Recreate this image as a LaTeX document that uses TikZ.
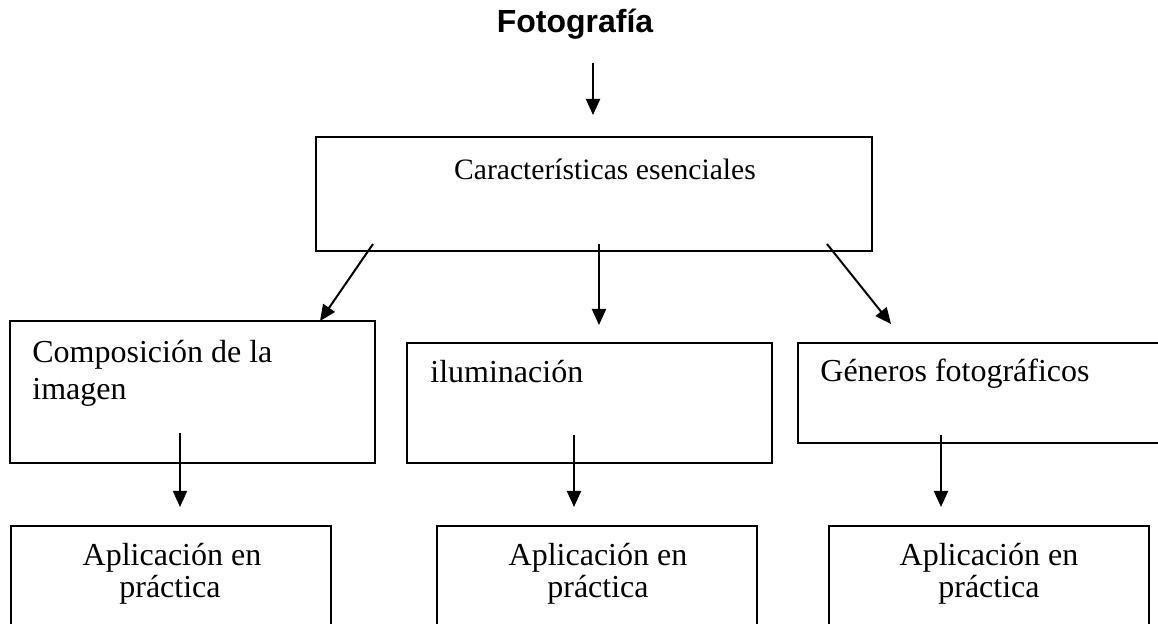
\documentclass[tikz,border=0pt]{standalone}
\usepackage{fontspec}
\setmainfont{Liberation Serif}
\newfontfamily\titlefont{Liberation Sans}
\usetikzlibrary{arrows.meta}
\tikzset{
  box/.style={draw, line width=1.2pt, rectangle, inner sep=0pt, outer sep=0pt, anchor=north west},
  txt/.style={inner sep=0pt, font=\fontsize{16}{18.5}\selectfont},
  arr/.style={line width=1pt, -{Triangle[length=8pt,width=7pt]}}
}
\begin{document}
\begin{tikzpicture}[x=0.5pt,y=-0.5pt]
\useasboundingbox (0,0) rectangle (1158,624);
\clip (0,0) rectangle (1158,624);
% title
\node[inner sep=0pt, anchor=base, font=\titlefont\bfseries\fontsize{16}{19}\selectfont] (title) at (575,33) {Fotografía};
% boxes
\node[box, minimum width=278pt, minimum height=57pt] (top) at (316,137) {};
\node[box, minimum width=182.5pt, minimum height=71pt] (b1) at (10,321) {};
\node[box, minimum width=182.5pt, minimum height=60pt] (b2) at (407,343) {};
\node[box, minimum width=184pt, minimum height=50pt] (b3) at (798,343) {};
\node[box, minimum width=160pt, minimum height=60pt] (a1) at (11,526) {};
\node[box, minimum width=160pt, minimum height=60pt] (a2) at (437,526) {};
\node[box, minimum width=160pt, minimum height=60pt] (a3) at (829,526) {};
% texts
\node[txt, anchor=base, font=\fontsize{14.8}{18}\selectfont] (ttop) at (605,180) {Características esenciales};
\node[txt, anchor=base west] (t1a) at (32,363) {Composición de la};
\node[txt, anchor=base west] (t1b) at (32,400) {imagen};
\node[txt, anchor=base west] (t2) at (430,383) {iluminación};
\node[txt, anchor=base west] (t3) at (820,382) {Géneros fotográficos};
\node[txt, anchor=base] (p1a) at (172,566) {Aplicación en};
\node[txt, anchor=base] (p1b) at (170,598) {práctica};
\node[txt, anchor=base] (p2a) at (598,566) {Aplicación en};
\node[txt, anchor=base] (p2b) at (598,598) {práctica};
\node[txt, anchor=base] (p3a) at (989,566) {Aplicación en};
\node[txt, anchor=base] (p3b) at (989,598) {práctica};
% connectors
\draw[arr] ([xshift=-0.5pt,yshift=37pt]top.north) -- ([xshift=-0.5pt,yshift=11pt]top.north);
\draw[arr] ([xshift=28.5pt,yshift=3.5pt]top.south west) -- ([xshift=-27.5pt]b1.north east);
\draw[arr] ([xshift=141.5pt,yshift=3.5pt]top.south west) -- ([xshift=4.75pt,yshift=9pt]b2.north);
\draw[arr] ([xshift=-22.5pt,yshift=3.5pt]top.south east) -- ([xshift=46.5pt,yshift=9.5pt]b3.north west);
\draw[arr] ([xshift=85pt,yshift=15pt]b1.south west) -- ([xshift=84.5pt,yshift=9.5pt]a1.north west);
\draw[arr] ([xshift=83.5pt,yshift=14pt]b2.south west) -- ([xshift=68.5pt,yshift=9.5pt]a2.north west);
\draw[arr] ([xshift=71.5pt,yshift=4pt]b3.south west) -- ([xshift=56pt,yshift=9.5pt]a3.north west);
\end{tikzpicture}
\end{document}
